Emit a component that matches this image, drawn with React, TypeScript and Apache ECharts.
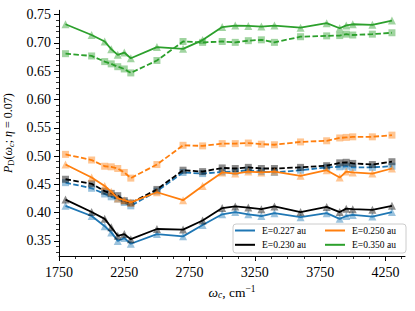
import React, { useEffect, useRef } from 'react';
import * as echarts from 'echarts';

const xValues = [1800, 2000, 2100, 2150, 2200, 2250, 2300, 2500, 2700, 2850, 3000, 3100, 3200, 3300, 3400, 3600, 3800, 3900, 3950, 4000, 4150, 4300];

const legendNames = ['E=0.227 au', 'E=0.230 au', 'E=0.250 au', 'E=0.350 au'];
const colors = ['#1f77b4', '#000000', '#ff7f0e', '#2ca02c'];

const solid227 = [0.412, 0.394, 0.376, 0.365, 0.350, 0.355, 0.345, 0.362, 0.358, 0.378, 0.397, 0.401, 0.397, 0.394, 0.399, 0.392, 0.399, 0.389, 0.394, 0.396, 0.393, 0.401];
const dashed227 = [0.453, 0.443, 0.433, 0.428, 0.424, 0.418, 0.412, 0.438, 0.471, 0.469, 0.472, 0.4725, 0.475, 0.4725, 0.471, 0.475, 0.480, 0.481, 0.482, 0.480, 0.480, 0.482];
const solid230 = [0.423, 0.401, 0.389, 0.374, 0.359, 0.362, 0.353, 0.371, 0.370, 0.386, 0.408, 0.411, 0.409, 0.406, 0.411, 0.401, 0.410, 0.401, 0.407, 0.406, 0.405, 0.412];
const dashed230 = [0.459, 0.451, 0.438, 0.434, 0.430, 0.421, 0.417, 0.441, 0.475, 0.4725, 0.479, 0.478, 0.480, 0.478, 0.478, 0.480, 0.483, 0.488, 0.489, 0.487, 0.485, 0.490];
const solid250 = [0.485, 0.462, 0.447, 0.437, 0.425, 0.422, 0.418, 0.436, 0.422, 0.447, 0.471, 0.469, 0.4725, 0.471, 0.4725, 0.465, 0.475, 0.462, 0.4725, 0.471, 0.469, 0.478];
const dashed250 = [0.503, 0.493, 0.482, 0.481, 0.478, 0.471, 0.461, 0.485, 0.519, 0.518, 0.522, 0.522, 0.523, 0.521, 0.520, 0.525, 0.527, 0.532, 0.533, 0.534, 0.534, 0.537];
const solid350 = [0.733, 0.714, 0.7025, 0.689, 0.679, 0.683, 0.673, 0.6926, 0.6896, 0.705, 0.728, 0.7307, 0.730, 0.729, 0.7307, 0.727, 0.735, 0.726, 0.731, 0.733, 0.732, 0.7395];
const dashed350 = [0.681, 0.677, 0.667, 0.663, 0.658, 0.654, 0.647, 0.669, 0.7025, 0.701, 0.7025, 0.701, 0.704, 0.7055, 0.701, 0.711, 0.7125, 0.713, 0.7155, 0.714, 0.7155, 0.718];

const solidSets = [solid227, solid230, solid250, solid350];
const dashedSets = [dashed227, dashed230, dashed250, dashed350];

const xTickLabels = [1750, 2250, 2750, 3250, 3750, 4250];
const xMinorTicks = [1875, 2000, 2125, 2375, 2500, 2625, 2875, 3000, 3125, 3375, 3500, 3625, 3875, 4000, 4125, 4375];
const yTickLabels = [0.35, 0.40, 0.45, 0.50, 0.55, 0.60, 0.65, 0.70, 0.75];
const yMinorTicks = [0.33, 0.34, 0.36, 0.37, 0.38, 0.39, 0.41, 0.42, 0.43, 0.44, 0.46, 0.47, 0.48, 0.49, 0.51, 0.52, 0.53, 0.54, 0.56, 0.57, 0.58, 0.59, 0.61, 0.62, 0.63, 0.64, 0.66, 0.67, 0.68, 0.69, 0.71, 0.72, 0.73, 0.74];

const FONT = "'Liberation Serif', 'DejaVu Serif', serif";

function alpha(hex: string, a: number) {
  const r = parseInt(hex.slice(1, 3), 16);
  const g = parseInt(hex.slice(3, 5), 16);
  const b = parseInt(hex.slice(5, 7), 16);
  return `rgba(${r},${g},${b},${a})`;
}

export default function App() {
  const ref = useRef<HTMLDivElement>(null);
  useEffect(() => {
    if (!ref.current) return;
    const chart = echarts.init(ref.current, undefined, { renderer: 'svg' });
    const series: any[] = [];
    legendNames.forEach((name, k) => {
      series.push({
        name,
        type: 'line',
        data: xValues.map((x, i) => [x, solidSets[k][i]]),
        symbol: 'triangle',
        symbolSize: 8,
        itemStyle: { color: alpha(colors[k], 0.45) },
        lineStyle: { color: colors[k], width: 1.8 },
        z: 2 + k,
      });
      series.push({
        name: name + ' (dashed)',
        type: 'line',
        data: xValues.map((x, i) => [x, dashedSets[k][i]]),
        symbol: 'rect',
        symbolSize: 7,
        itemStyle: { color: alpha(colors[k], 0.45) },
        lineStyle: { color: colors[k], width: 1.8, type: [5.5, 2.4] },
        z: 2 + k,
      });
    });

    const mkRich = (fs: number, sfs: number) => ({
      n: { fontFamily: FONT, fontSize: fs, color: '#000', lineHeight: fs + 3 },
      i: { fontFamily: FONT, fontSize: fs, fontStyle: 'italic', color: '#000', lineHeight: fs + 3 },
      s: { fontFamily: FONT, fontSize: sfs, color: '#000', verticalAlign: 'bottom', lineHeight: sfs },
      si: { fontFamily: FONT, fontSize: sfs, fontStyle: 'italic', color: '#000', verticalAlign: 'bottom', lineHeight: sfs },
      sup: { fontFamily: FONT, fontSize: sfs, color: '#000', verticalAlign: 'top', lineHeight: sfs - 1 },
    });

    const legendCommon = {
      orient: 'vertical',
      icon: 'rect',
      itemWidth: 20,
      itemHeight: 2,
      itemGap: 3.3,
      padding: 0,
      z: 10,
      selectedMode: false,
      textStyle: { fontFamily: FONT, fontSize: 9.5, color: '#000', lineHeight: 11, padding: [0, 0, 0, 2] },
    };

    chart.setOption({
      animation: false,
      backgroundColor: '#ffffff',
      grid: { left: 59, right: 10, top: 10.3, bottom: 55, containLabel: false, outerBoundsMode: 'none' },
      legend: [
        {
          ...legendCommon,
          left: 235,
          top: 225,
          data: [
            { name: legendNames[0], itemStyle: { color: colors[0] } },
            { name: legendNames[1], itemStyle: { color: colors[1] } },
          ],
        },
        {
          ...legendCommon,
          left: 325,
          top: 225,
          data: [
            { name: legendNames[2], itemStyle: { color: colors[2] } },
            { name: legendNames[3], itemStyle: { color: colors[3] } },
          ],
        },
      ],
      graphic: [
        {
          type: 'rect',
          z: 8,
          shape: { x: 233, y: 224, width: 173, height: 29, r: 3 },
          style: { fill: 'rgba(255,255,255,0.8)', stroke: '#cccccc', lineWidth: 1 },
        },
      ],
      xAxis: [
        {
          type: 'value',
          min: 1750,
          max: 4400,
          interval: 500,
          position: 'bottom',
          axisLine: { show: true, onZero: false, lineStyle: { color: '#000', width: 1 } },
          axisTick: { show: true, length: 5, lineStyle: { color: '#000', width: 1 }, customValues: xTickLabels },
          axisLabel: { customValues: xTickLabels, fontFamily: FONT, fontSize: 14, color: '#000', margin: 9, formatter: (v: number) => String(v) },
          splitLine: { show: false },
          name: '{i|ω}{si|c}{n|, cm}{sup|−1}',
          nameLocation: 'middle',
          nameGap: 25,
          nameTextStyle: { rich: mkRich(13.5, 9.5) },
        },
        {
          type: 'value',
          min: 1750,
          max: 4400,
          position: 'bottom',
          axisLine: { show: false, onZero: false },
          axisTick: { show: true, length: 3, lineStyle: { color: '#000', width: 0.8 }, customValues: xMinorTicks },
          axisLabel: { show: false },
          splitLine: { show: false },
        },
      ],
      yAxis: [
        {
          type: 'value',
          min: 0.3233,
          max: 0.7577,
          position: 'left',
          axisLine: { show: true, onZero: false, lineStyle: { color: '#000', width: 1 } },
          axisTick: { show: true, length: 5, lineStyle: { color: '#000', width: 1 }, customValues: yTickLabels },
          axisLabel: { customValues: yTickLabels, fontFamily: FONT, fontSize: 14, color: '#000', margin: 8, formatter: (v: number) => v.toFixed(2) },
          splitLine: { show: false },
          name: '{i|P}{s|D}{n|(}{i|ω}{si|c}{n|; }{i|η}{n| = 0.07)}',
          nameLocation: 'middle',
          nameGap: 41,
          nameRotate: 90,
          nameTextStyle: { rich: mkRich(12, 8.5) },
        },
        {
          type: 'value',
          min: 0.3233,
          max: 0.7577,
          position: 'left',
          axisLine: { show: false, onZero: false },
          axisTick: { show: true, length: 3, lineStyle: { color: '#000', width: 0.8 }, customValues: yMinorTicks },
          axisLabel: { show: false },
          splitLine: { show: false },
        },
      ],
      series,
    });
    return () => chart.dispose();
  }, []);
  return <div ref={ref} style={{ position: 'fixed', left: 0, top: 0, width: 415, height: 311 }} />;
}
